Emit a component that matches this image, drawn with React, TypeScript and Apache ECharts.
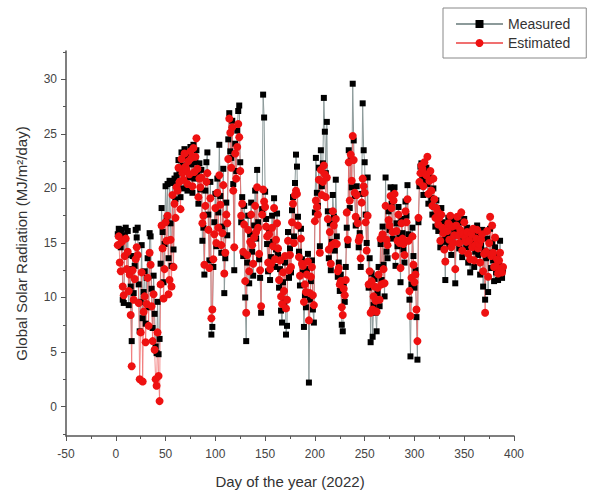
import React, { useEffect, useRef } from "react";
import * as echarts from "echarts";

// Day index of first point (points are daily)
const firstDay = 2;

const measured: number[] = [
  15.8, 16.3, 15.9, 14.6, 16.2, 9.8, 9.5, 15.7, 16.4, 13.9,
  16.1, 9.3, 12.6, 11.0, 6.0, 13.8, 10.4, 12.9, 16.2, 15.5,
  16.4, 11.2, 6.9, 9.6, 14.8, 8.1, 10.5, 12.4, 7.6, 11.8,
  13.6, 9.1, 15.9, 15.6, 10.8, 7.2, 12.0, 8.5, 5.5, 4.9,
  9.6, 4.8, 6.2, 13.1, 18.2, 16.0, 11.4, 14.9, 20.2, 17.3,
  20.4, 13.6, 20.7, 16.8, 12.9, 20.5, 14.4, 20.9, 19.0, 21.2,
  20.3, 22.6, 21.4, 19.2, 23.3, 22.1, 20.0, 23.6, 21.5, 22.8,
  19.8, 23.1, 21.0, 23.8, 22.2, 19.6, 24.0, 20.9, 22.4, 23.5,
  21.2, 18.6, 22.3, 19.9, 21.7, 15.2, 16.4, 12.1, 19.8, 22.4,
  23.3, 17.6, 13.4, 20.6, 6.6, 7.3, 12.8, 16.9, 19.5, 14.7,
  20.9, 17.8, 24.0, 19.3, 14.1, 16.5, 21.8, 10.4, 13.6, 18.7,
  15.7, 24.5, 26.9, 23.4, 22.8, 26.2, 20.4, 12.5, 24.1, 21.6,
  25.3, 27.1, 27.6, 22.4, 16.9, 19.2, 13.8, 18.4, 10.0, 6.0,
  13.2, 17.5, 11.3, 15.8, 18.7, 14.2, 12.0, 16.6, 19.8, 15.4,
  21.7, 16.9, 13.5, 11.8, 8.6, 18.1, 28.6, 26.5, 19.7, 17.2,
  14.9, 12.4, 16.3, 11.6, 13.7, 17.5, 15.1, 19.1, 12.8, 14.4,
  17.7, 13.9, 10.9, 12.6, 8.8, 7.7, 11.4, 9.6, 13.2, 6.6,
  7.4, 16.0, 11.8, 14.5, 12.3, 18.0, 19.2, 15.6, 20.5, 23.1,
  22.0, 17.4, 14.2, 11.1, 16.3, 13.5, 12.3, 7.3, 10.2, 9.1,
  12.6, 14.0, 2.2, 9.8, 11.5, 13.4, 8.9, 7.7, 17.8, 22.8,
  19.6, 18.4, 21.9, 14.7, 23.5, 20.2, 22.3, 28.3, 25.2, 21.4,
  26.1, 17.9, 13.6, 16.8, 12.5, 15.1, 19.4, 17.4, 14.3, 20.8,
  15.6, 11.9, 13.2, 10.6, 12.1, 7.5, 6.9, 11.3, 9.6, 12.8,
  16.4, 14.8, 23.5, 18.2, 22.6, 20.1, 29.6, 24.4, 19.3, 16.6,
  20.2, 17.1, 14.6, 15.9, 12.8, 19.5, 27.8, 23.5, 22.4, 17.6,
  15.0, 21.0, 10.9, 13.6, 5.9, 12.2, 6.4, 9.3, 11.7, 8.6,
  6.9, 10.4, 12.8, 9.2, 14.9, 11.6, 16.5, 13.0, 10.1, 21.0,
  14.2, 13.6, 17.9, 16.2, 20.1, 18.6, 15.4, 19.7, 20.1, 12.9,
  16.8, 14.7, 18.3, 15.5, 11.4, 17.2, 15.9, 14.4, 13.2, 18.8,
  17.5, 20.3, 15.8, 9.8, 4.6, 11.2, 16.4, 13.8, 10.9, 12.5,
  8.2, 4.3, 16.9, 20.2, 22.0, 22.3, 21.1, 19.4, 21.6, 20.7,
  21.9, 20.4, 18.6, 21.2, 20.8, 19.1, 17.6, 20.0, 18.3, 16.5,
  18.9, 17.4, 16.1, 17.8, 14.6, 18.2, 16.9, 15.3, 15.1, 11.6,
  16.8, 15.7, 17.3, 14.8, 16.4, 13.9, 17.1, 15.6, 16.2, 11.3,
  15.9, 17.0, 16.3, 14.5, 15.8, 16.9, 13.7, 15.2, 17.2, 16.0,
  14.6, 16.4, 13.2, 15.7, 12.3, 16.1, 14.9, 15.5, 12.8, 14.2,
  15.9, 16.6, 13.9, 15.2, 12.1, 14.8, 16.2, 11.0, 14.3, 9.8,
  13.6, 15.4, 10.5, 14.1, 16.3, 12.7, 15.0, 13.4, 11.5, 14.6,
  12.3, 13.8, 11.6, 12.9, 15.2, 12.4, 11.8, 12.6,
];

const estimated: number[] = [
  14.8, 15.6, 13.2, 12.4, 15.1, 11.0, 10.2, 13.8, 15.4, 12.6,
  14.2, 10.6, 12.1, 8.4, 3.7, 12.5, 9.8, 11.7, 13.5, 14.6,
  13.9, 9.5, 2.5, 6.8, 12.3, 2.3, 8.7, 10.1, 5.9, 9.4,
  11.8, 7.4, 14.1, 13.0, 9.2, 6.0, 10.3, 5.2, 2.5, 1.9,
  6.8, 2.8, 0.5, 11.2, 16.6, 14.5, 9.9, 12.6, 16.9, 15.2,
  17.5, 10.3, 11.6, 15.3, 11.0, 19.4, 12.8, 18.6, 17.3, 20.1,
  19.8, 21.9, 20.6, 18.1, 22.7, 21.4, 20.8, 23.2, 22.0, 21.7,
  20.4, 22.5, 21.3, 23.4, 22.8, 20.2, 23.7, 21.5, 22.9, 24.6,
  21.8, 19.2, 20.9, 20.1, 21.0, 16.8, 17.5, 13.0, 18.4, 20.6,
  21.4, 16.2, 12.7, 19.1, 8.1, 8.9, 13.5, 15.8, 18.2, 15.0,
  19.6, 16.4, 21.2, 18.5, 14.8, 15.9, 20.3, 12.2, 14.1, 17.6,
  16.8, 22.7, 26.4, 25.1, 21.9, 25.6, 19.8, 14.6, 23.2, 20.9,
  23.8, 25.9, 24.7, 21.6, 17.5, 18.6, 14.2, 16.7, 11.5, 8.6,
  13.9, 16.2, 12.4, 15.1, 17.6, 14.8, 13.1, 15.5, 18.4, 16.0,
  20.1, 16.4, 14.0, 12.5, 9.2, 17.6, 19.9, 18.8, 18.3, 16.5,
  15.6, 13.2, 15.8, 12.6, 13.1, 16.4, 14.7, 18.2, 13.5, 15.3,
  16.8, 14.5, 11.6, 13.4, 10.1, 9.4, 12.3, 10.6, 13.8, 9.0,
  9.8, 15.2, 12.5, 13.9, 12.8, 16.9, 18.6, 15.0, 19.4, 19.8,
  19.5, 16.6, 13.7, 12.0, 15.4, 13.1, 12.9, 9.6, 11.2, 10.5,
  12.1, 13.3, 7.9, 10.4, 11.9, 12.8, 10.2, 9.3, 17.0, 18.9,
  18.3, 17.6, 20.8, 14.1, 21.7, 19.4, 20.6, 22.1, 21.3, 19.2,
  21.0, 17.2, 14.4, 16.0, 13.1, 14.8, 17.9, 16.6, 15.0, 17.2,
  14.9, 12.4, 12.7, 11.2, 11.5, 9.1, 8.4, 10.8, 10.2, 11.6,
  17.8, 15.3, 22.4, 18.9, 23.1, 20.7, 24.8, 22.6, 19.6, 17.4,
  19.4, 16.8, 15.2, 15.5, 13.6, 18.7, 20.9, 20.2, 19.6, 16.9,
  14.3, 17.5, 11.2, 12.4, 8.6, 11.5, 8.9, 10.1, 11.0, 9.7,
  8.7, 10.9, 12.1, 9.8, 15.4, 11.2, 15.8, 12.6, 11.3, 18.4,
  15.3, 14.8, 17.1, 16.6, 19.3, 18.2, 16.0, 18.9, 19.5, 13.8,
  16.1, 15.2, 17.6, 15.0, 12.7, 16.8, 15.4, 14.9, 13.9, 17.9,
  16.9, 19.0, 15.2, 10.6, 8.3, 11.8, 15.6, 13.0, 11.4, 12.1,
  8.9, 6.0, 17.3, 20.6, 21.4, 22.1, 21.8, 20.2, 22.4, 21.3,
  21.2, 22.9, 19.5, 20.7, 21.6, 19.8, 18.4, 20.9, 19.0, 17.3,
  18.2, 17.9, 16.7, 17.3, 15.2, 17.6, 16.4, 15.9, 14.4, 13.3,
  16.3, 16.1, 16.8, 15.3, 17.5, 14.6, 16.5, 15.0, 15.7, 12.6,
  16.6, 17.4, 15.7, 15.0, 16.2, 17.8, 14.3, 15.8, 16.9, 15.4,
  15.1, 16.0, 14.0, 15.2, 13.5, 15.8, 14.6, 16.3, 13.4, 14.8,
  15.4, 16.2, 14.5, 14.9, 13.2, 15.3, 15.8, 12.4, 14.0, 8.6,
  14.2, 16.1, 11.9, 15.0, 17.4, 13.8, 16.6, 14.1, 12.8, 15.5,
  12.9, 13.5, 12.2, 13.4, 14.1, 12.6, 12.3, 12.8,
];

const yMajorTicks = [0, 5, 10, 15, 20, 25, 30];
const yMinorTicks = [-2.5, 2.5, 7.5, 12.5, 17.5, 22.5, 27.5, 32.5];

const FONT = "Liberation Sans, Arial, sans-serif";

export default function App() {
  const ref = useRef<HTMLDivElement>(null);
  useEffect(() => {
    document.body.style.margin = "0";
    if (!ref.current) return;
    const chart = echarts.init(ref.current, null, { renderer: "svg" });
    const mData = measured.map((v, i) => [firstDay + i, v]);
    const eData = estimated.map((v, i) => [firstDay + i, v]);
    const axisColor = "#555";
    chart.setOption({
      animation: false,
      backgroundColor: "#fff",
      textStyle: { fontFamily: FONT },
      grid: { left: 66, right: 78, top: 51, bottom: 61, containLabel: false },
      legend: {
        orient: "vertical",
        left: 443,
        top: 8,
        padding: [9, 16, 8, 12],
        itemGap: 5,
        itemWidth: 47,
        itemHeight: 10,
        borderColor: "#888",
        borderWidth: 1,
        textStyle: { fontSize: 14, color: "#333", fontFamily: FONT },
        data: ["Measured", "Estimated"],
      },
      xAxis: {
        type: "value",
        min: -50,
        max: 400,
        interval: 50,
        name: "Day of the year (2022)",
        nameLocation: "middle",
        nameGap: 38,
        nameTextStyle: { fontSize: 15, color: "#333", fontFamily: FONT },
        axisLine: { onZero: false, lineStyle: { color: axisColor, width: 1.5 } },
        axisTick: { show: true, inside: false, length: 5, lineStyle: { color: axisColor } },
        minorTick: { show: true, splitNumber: 2, length: 3, lineStyle: { color: axisColor } },
        axisLabel: { fontSize: 12, color: "#444", margin: 12, fontFamily: FONT },
        splitLine: { show: false },
      },
      yAxis: [
        {
          type: "value",
          min: -2.7,
          max: 32.6,
          position: "left",
          name: "Global Solar Radiation (MJ/m²/day)",
          nameLocation: "middle",
          nameGap: 37,
          nameTextStyle: { fontSize: 15, color: "#333", fontFamily: FONT },
          axisLine: { onZero: false, lineStyle: { color: axisColor, width: 1.5 } },
          axisTick: { show: true, length: 5, customValues: yMajorTicks, lineStyle: { color: axisColor } },
          axisLabel: { fontSize: 12, color: "#444", margin: 9, customValues: yMajorTicks, fontFamily: FONT },
          splitLine: { show: false },
        },
        {
          type: "value",
          min: -2.7,
          max: 32.6,
          position: "left",
          axisLine: { show: false, onZero: false },
          axisTick: { show: true, length: 3, customValues: yMinorTicks, lineStyle: { color: axisColor } },
          axisLabel: { show: false },
          splitLine: { show: false },
        },
      ],
      series: [
        {
          name: "Measured",
          type: "line",
          data: mData,
          yAxisIndex: 0,
          symbol: "rect",
          symbolSize: 6,
          showAllSymbol: true,
          itemStyle: { color: "#000" },
          lineStyle: { color: "#8c9a9a", width: 1 },
        },
        {
          name: "Estimated",
          type: "line",
          data: eData,
          yAxisIndex: 0,
          symbol: "circle",
          symbolSize: 8,
          showAllSymbol: true,
          itemStyle: { color: "#ee1111" },
          lineStyle: { color: "#f07070", width: 0.8 },
        },
      ],
    });
    return () => chart.dispose();
  }, []);
  return <div ref={ref} style={{ width: 592, height: 497 }} />;
}
